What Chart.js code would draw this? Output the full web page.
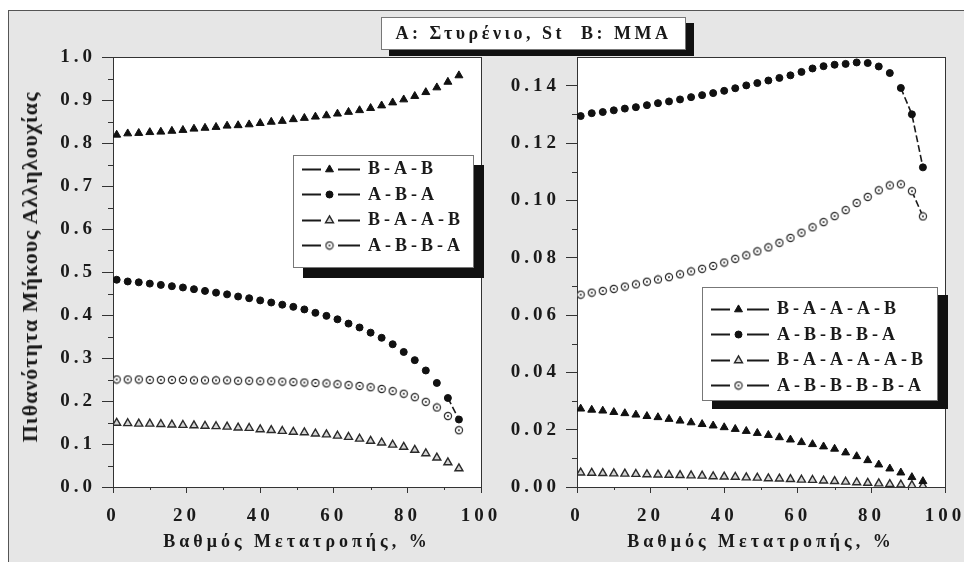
<!DOCTYPE html>
<html>
<head>
<meta charset="utf-8">
<script src="https://cdn.jsdelivr.net/npm/chart.js@4.4.1/dist/chart.umd.min.js"></script>
<style>
    body { margin: 0; width: 964px; height: 562px; overflow: hidden; background: #fff; position: relative; font-family: 'Liberation Serif', serif; color: #1a1a1a; }
    #panel { position: absolute; left: 8px; top: 10px; width: 1000px; height: 600px; background: #e6e6e6; border: 1px solid #555; }
    canvas.chart { position: absolute; top: 0; }
    #leftChart { left: 0; }
    #rightChart { left: 480px; }
    .box { position: absolute; background: #fff; border: 1px solid #777; font-weight: bold; box-sizing: border-box; }
    #titleBox { left: 381px; top: 17px; width: 305px; height: 33px; box-shadow: 8px 6px 0 #111; font-size: 18px; letter-spacing: 3.5px; line-height: 31px; text-align: center; white-space: pre; }
    #leftLegend { left: 293px; top: 155px; width: 181px; height: 113px; box-shadow: 10px 10px 0 #111; }
    #rightLegend { left: 702px; top: 287px; width: 236px; height: 114px; box-shadow: 10px 8px 0 #111; padding-top: 8px; }
    .row { height: 25.5px; display: flex; align-items: center; padding-left: 8px; }
    .row span { margin-left: 6px; font-size: 18px; letter-spacing: 4px; white-space: nowrap; }
    #yTitle { position: absolute; left: 30px; top: 267px; transform: translate(-50%, -50%) rotate(-90deg); font: bold 22px 'Liberation Serif', serif; letter-spacing: 1px; white-space: nowrap; }
</style>
</head>
<body>
<div id="panel"></div>
<canvas id="leftChart" class="chart" width="500" height="562"></canvas>
<canvas id="rightChart" class="chart" width="484" height="562"></canvas>
<div id="yTitle">Πιθανότητα Μήκους Αλληλουχίας</div>
<div id="titleBox" class="box">A: Στυρένιο, St  B: MMA</div>
<div id="leftLegend" class="box"></div>
<div id="rightLegend" class="box"></div>
<script>
// βαθμός μετατροπής (%)
const conversion = [1, 4, 7, 10, 13, 16, 19, 22, 25, 28, 31, 34, 37, 40, 43, 46,
    49, 52, 55, 58, 61, 64, 67, 70, 73, 76, 79, 82, 85, 88, 91, 94];

// αριστερό διάγραμμα
const babValues = [0.819, 0.822, 0.823, 0.825, 0.826, 0.828, 0.830, 0.833, 0.835, 0.837, 0.840, 0.841,
    0.843, 0.846, 0.849, 0.851, 0.855, 0.858, 0.861, 0.864, 0.868, 0.872, 0.876, 0.881,
    0.887, 0.894, 0.901, 0.909, 0.918, 0.929, 0.942, 0.957];
const abaValues = [0.482, 0.478, 0.476, 0.473, 0.470, 0.467, 0.464, 0.460, 0.456, 0.452, 0.448, 0.443,
    0.439, 0.434, 0.429, 0.424, 0.419, 0.413, 0.405, 0.398, 0.390, 0.380, 0.371, 0.359,
    0.347, 0.332, 0.314, 0.295, 0.271, 0.242, 0.207, 0.157];
const baabValues = [0.149, 0.148, 0.147, 0.147, 0.146, 0.145, 0.144, 0.143, 0.142, 0.141, 0.140, 0.138,
    0.137, 0.134, 0.132, 0.130, 0.128, 0.127, 0.124, 0.122, 0.119, 0.116, 0.112, 0.107,
    0.103, 0.098, 0.093, 0.086, 0.078, 0.068, 0.057, 0.043];
const abbaValues = [0.250, 0.250, 0.250, 0.249, 0.249, 0.249, 0.249, 0.248, 0.248, 0.248, 0.248, 0.247,
    0.247, 0.246, 0.246, 0.245, 0.244, 0.243, 0.242, 0.241, 0.239, 0.237, 0.235, 0.232,
    0.228, 0.223, 0.217, 0.209, 0.198, 0.185, 0.165, 0.132];

// δεξί διάγραμμα
const baaabValues = [0.0273, 0.0269, 0.0266, 0.0261, 0.0257, 0.0252, 0.0247, 0.0243, 0.0237, 0.0231, 0.0225, 0.0219,
    0.0214, 0.0208, 0.0202, 0.0195, 0.0188, 0.0181, 0.0173, 0.0165, 0.0156, 0.0149, 0.0141, 0.0133,
    0.0120, 0.0107, 0.0093, 0.0078, 0.0064, 0.0050, 0.0034, 0.0020];
const abbbaValues = [0.1294, 0.1304, 0.1308, 0.1314, 0.1320, 0.1325, 0.1332, 0.1339, 0.1345, 0.1352, 0.1360, 0.1367,
    0.1374, 0.1382, 0.1391, 0.1401, 0.1409, 0.1418, 0.1427, 0.1436, 0.1448, 0.1460, 0.1468, 0.1473,
    0.1476, 0.1481, 0.1479, 0.1467, 0.1444, 0.1392, 0.1300, 0.1115];
const baaaabValues = [0.0050, 0.0049, 0.0048, 0.0047, 0.0046, 0.0045, 0.0044, 0.0043, 0.0042, 0.0041, 0.0040, 0.0039,
    0.0037, 0.0036, 0.0035, 0.0033, 0.0032, 0.0030, 0.0029, 0.0027, 0.0025, 0.0024, 0.0022, 0.0020,
    0.0018, 0.0016, 0.0014, 0.0012, 0.0010, 0.0008, 0.0006, 0.0004];
const abbbbaValues = [0.0671, 0.0678, 0.0684, 0.0691, 0.0699, 0.0707, 0.0716, 0.0724, 0.0732, 0.0742, 0.0752, 0.0761,
    0.0771, 0.0783, 0.0796, 0.0808, 0.0822, 0.0836, 0.0852, 0.0869, 0.0887, 0.0906, 0.0924, 0.0945,
    0.0966, 0.0991, 0.1012, 0.1035, 0.1052, 0.1056, 0.1032, 0.0944];

const xMinorTicks = [10, 30, 50, 70, 90];
const leftMinorTicks = [0.05, 0.15, 0.25, 0.35, 0.45, 0.55, 0.65, 0.75, 0.85, 0.95];
const rightMinorTicks = [0.01, 0.03, 0.05, 0.07, 0.09, 0.11, 0.13];

const FONT = "'Liberation Serif', serif";
const INK = '#1a1a1a';

// κύκλος με κουκκίδα (⊙)
const dotCircle = document.createElement('canvas');
dotCircle.width = 10;
dotCircle.height = 10;
(function() {
    const c = dotCircle.getContext('2d');
    c.fillStyle = '#fff';
    c.strokeStyle = '#2a2a2a';
    c.lineWidth = 1.2;
    c.beginPath();
    c.arc(5, 5, 3.6, 0, Math.PI * 2);
    c.fill();
    c.stroke();
    c.fillStyle = '#2a2a2a';
    c.beginPath();
    c.arc(5, 5, 1, 0, Math.PI * 2);
    c.fill();
})();

const markers = {
    filledTri: { pointStyle: 'triangle', pointRadius: 4.6, pointBackgroundColor: '#111', pointBorderColor: '#111', pointBorderWidth: 1 },
    filledCirc: { pointStyle: 'circle', pointRadius: 3.5, pointBackgroundColor: '#111', pointBorderColor: '#111', pointBorderWidth: 1 },
    openTri: { pointStyle: 'triangle', pointRadius: 4.6, pointBackgroundColor: '#d4d4d4', pointBorderColor: '#2a2a2a', pointBorderWidth: 1.4 },
    dotCirc: { pointStyle: dotCircle, pointRadius: 5, pointBackgroundColor: '#fff', pointBorderColor: '#2a2a2a', pointBorderWidth: 1 }
};

// η γραμμή φαίνεται μόνο όπου τα σημεία απέχουν αρκετά
function series(label, values, marker) {
    return Object.assign({
        label: label,
        data: conversion.map((x, i) => ({ x: x, y: values[i] })),
        showLine: true,
        borderColor: INK,
        borderWidth: 1.6,
        segment: {
            borderColor: ctx => Math.hypot(ctx.p1.x - ctx.p0.x, ctx.p1.y - ctx.p0.y) > 20 ? INK : 'rgba(0,0,0,0)',
            borderDash: () => [7, 3]
        }
    }, markers[marker]);
}

const plotFrame = {
    id: 'plotFrame',
    beforeDraw(chart) {
        const { ctx, chartArea: a } = chart;
        ctx.save();
        ctx.fillStyle = '#fff';
        ctx.fillRect(a.left, a.top, a.right - a.left, a.bottom - a.top);
        ctx.strokeStyle = '#333';
        ctx.lineWidth = 1;
        ctx.strokeRect(Math.round(a.left) + 0.5, Math.round(a.top) + 0.5, Math.round(a.right - a.left), Math.round(a.bottom - a.top));
        ctx.restore();
        ctx.letterSpacing = '4px';
    }
};

const minorTicks = {
    id: 'minorTicks',
    afterDraw(chart, args, opts) {
        const { ctx } = chart;
        const x = chart.scales.x, y = chart.scales.y;
        ctx.save();
        ctx.strokeStyle = '#333';
        ctx.lineWidth = 1;
        ctx.beginPath();
        opts.xMinor.forEach(v => {
            const px = Math.round(x.getPixelForValue(v)) + 0.5;
            ctx.moveTo(px, x.top);
            ctx.lineTo(px, x.top + 3);
        });
        opts.yMinor.forEach(v => {
            const py = Math.round(y.getPixelForValue(v)) + 0.5;
            ctx.moveTo(y.right, py);
            ctx.lineTo(y.right - 5, py);
        });
        ctx.stroke();
        ctx.restore();
    }
};

function makeChart(canvasId, datasets, yMax, yStep, decimals, yMinor, yWidth) {
    return new Chart(document.getElementById(canvasId), {
        type: 'scatter',
        data: { datasets: datasets },
        options: {
            responsive: false,
            animation: false,
            layout: { padding: { left: 0, top: 57, right: 19, bottom: 0 } },
            plugins: {
                legend: { display: false },
                tooltip: { enabled: false },
                minorTicks: { xMinor: xMinorTicks, yMinor: yMinor }
            },
            scales: {
                x: {
                    type: 'linear',
                    min: 0,
                    max: 100,
                    ticks: { stepSize: 20, padding: 12, color: INK, font: { family: FONT, size: 19, weight: 'bold' } },
                    grid: { drawOnChartArea: false, tickLength: 6, color: '#333' },
                    border: { color: '#333' },
                    title: { display: true, text: 'Βαθμός Μετατροπής, %', color: INK, padding: { top: 0, bottom: 9 }, font: { family: FONT, size: 18, weight: 'bold' } },
                    afterFit(s) { s.height = 75; s.paddingLeft = 0; s.paddingRight = 0; }
                },
                y: {
                    min: 0,
                    max: yMax,
                    ticks: { stepSize: yStep, includeBounds: false, padding: 6, color: INK, font: { family: FONT, size: 19, weight: 'bold' },
                        callback: v => v.toFixed(decimals) },
                    grid: { drawOnChartArea: false, tickLength: 11, color: '#333' },
                    border: { color: '#333' },
                    afterFit(s) { s.width = yWidth; s.paddingTop = 0; s.paddingBottom = 0; }
                }
            }
        },
        plugins: [plotFrame, minorTicks]
    });
}

const leftChart = makeChart('leftChart', [
    series('B-A-B', babValues, 'filledTri'),
    series('A-B-A', abaValues, 'filledCirc'),
    series('B-A-A-B', baabValues, 'openTri'),
    series('A-B-B-A', abbaValues, 'dotCirc')
], 1.0, 0.1, 1, leftMinorTicks, 113);

const rightChart = makeChart('rightChart', [
    series('B-A-A-A-B', baaabValues, 'filledTri'),
    series('A-B-B-B-A', abbbaValues, 'filledCirc'),
    series('B-A-A-A-A-B', baaaabValues, 'openTri'),
    series('A-B-B-B-B-A', abbbbaValues, 'dotCirc')
], 0.15, 0.02, 2, rightMinorTicks, 97);

// υπόμνημα από τα datasets του κάθε διαγράμματος
function buildLegend(chart, boxId) {
    const box = document.getElementById(boxId);
    chart.data.datasets.forEach(ds => {
        const row = document.createElement('div');
        row.className = 'row';
        const cv = document.createElement('canvas');
        cv.width = 60;
        cv.height = 20;
        const c = cv.getContext('2d');
        c.strokeStyle = INK;
        c.lineWidth = 2;
        c.beginPath();
        c.moveTo(0, 10.5); c.lineTo(19, 10.5);
        c.moveTo(36, 10.5); c.lineTo(58, 10.5);
        c.stroke();
        c.fillStyle = ds.pointBackgroundColor;
        c.strokeStyle = ds.pointBorderColor;
        c.lineWidth = ds.pointBorderWidth;
        Chart.helpers.drawPoint(c, { pointStyle: ds.pointStyle, radius: ds.pointRadius, borderWidth: ds.pointBorderWidth, rotation: 0 }, 27.5, 10.5);
        const span = document.createElement('span');
        span.textContent = ds.label;
        row.appendChild(cv);
        row.appendChild(span);
        box.appendChild(row);
    });
}

buildLegend(leftChart, 'leftLegend');
buildLegend(rightChart, 'rightLegend');
</script>
</body>
</html>
